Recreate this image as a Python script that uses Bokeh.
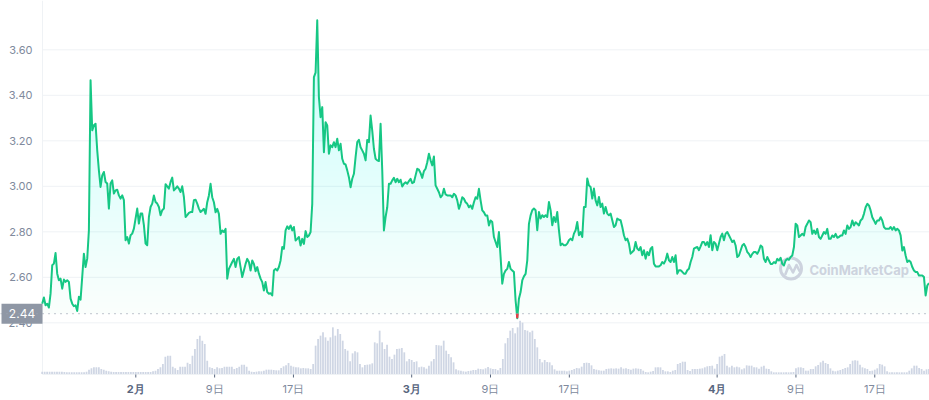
import numpy as np
import pandas as pd
from bokeh.plotting import figure
from bokeh.models import Range1d, Span
from bokeh.core.properties import value
from bokeh.embed import file_html
from bokeh.resources import INLINE

# ---------------- data ----------------
price_start = "2021-01-22 12:04"
price_step_min = 243.6
prices = [
    2.484, 2.511, 2.477, 2.484, 2.467, 2.528, 2.653, 2.66, 2.707, 2.616,
    2.587, 2.594, 2.55, 2.59, 2.58, 2.587, 2.58, 2.506, 2.484, 2.473,
    2.477, 2.452, 2.514, 2.502, 2.602, 2.704, 2.645, 2.682, 2.807, 3.466,
    3.246, 3.268, 3.275, 3.158, 3.07, 2.997, 3.048, 3.063, 3.019, 3.012,
    2.902, 3.012, 3.026, 2.968, 2.982, 2.985, 2.96, 2.946, 2.96, 2.939,
    2.763, 2.777, 2.748, 2.785, 2.792, 2.814, 2.858, 2.902, 2.836, 2.88,
    2.88, 2.829, 2.748, 2.741, 2.865, 2.909, 2.924, 2.96, 2.931, 2.924,
    2.909, 2.873, 2.895, 2.902, 3.009, 3.0, 2.99, 3.019, 3.038, 2.982,
    2.99, 3.0, 2.99, 2.975, 3.0, 2.953, 2.865, 2.873, 2.883, 2.887,
    2.887, 2.939, 2.941, 2.924, 2.902, 2.887,
    2.894, 2.901, 2.879, 2.93, 2.96, 3.011, 2.952, 2.93, 2.886, 2.901,
    2.879, 2.791, 2.806, 2.799, 2.813, 2.594, 2.637, 2.652, 2.667, 2.681,
    2.645, 2.681, 2.689, 2.645, 2.601, 2.63, 2.659, 2.681, 2.667, 2.63,
    2.674, 2.659, 2.627, 2.645, 2.616, 2.594, 2.579, 2.542, 2.579, 2.535,
    2.528, 2.53, 2.52, 2.63, 2.637, 2.63, 2.645, 2.674, 2.733, 2.725,
    2.806, 2.824, 2.813, 2.828, 2.806, 2.821, 2.762, 2.769, 2.777, 2.74,
    2.769, 2.747, 2.803, 2.777, 2.784, 2.799, 2.923, 3.48, 3.50, 3.73,
    3.392, 3.304, 3.348, 3.15, 3.282, 3.267, 3.143, 3.18, 3.172, 3.194,
    3.172, 3.209, 3.158, 3.187, 3.121, 3.099, 3.096, 3.07, 3.04, 2.996,
    3.033, 3.055, 3.128,
    3.194, 3.204, 3.172, 3.158, 3.143, 3.114, 3.204, 3.194, 3.311, 3.245,
    3.165, 3.121, 3.114, 3.111, 3.275, 3.07, 2.806, 2.865, 2.908, 3.011,
    3.011, 3.026, 3.037, 3.018, 3.033, 3.018, 3.029, 2.999, 3.011, 3.018,
    3.011, 3.023, 3.033, 3.014, 3.018, 3.048, 3.077, 3.073, 3.058, 3.037,
    3.067, 3.077, 3.106, 3.143, 3.114, 3.092, 3.131, 3.004, 2.989, 2.974,
    2.952, 2.96, 2.989, 2.964, 2.96, 2.96, 2.96, 2.952, 2.967, 2.96,
    2.938, 2.901, 2.923, 2.952, 2.945, 2.93, 2.923, 2.908, 2.916, 2.901,
    2.93, 2.952, 2.945, 2.989, 2.938, 2.894, 2.886, 2.872, 2.872, 2.828,
    2.85, 2.843, 2.777, 2.755, 2.733, 2.799, 2.689, 2.572, 2.615, 2.63,
    2.637, 2.667, 2.637, 2.63, 2.623, 2.498, 2.42, 2.506, 2.535, 2.586,
    2.604, 2.615, 2.674, 2.835, 2.872,
    2.895, 2.902, 2.895, 2.807, 2.887, 2.858, 2.873, 2.865, 2.873, 2.865,
    2.931, 2.895, 2.829, 2.865, 2.843, 2.887, 2.807, 2.741, 2.748, 2.741,
    2.741, 2.748, 2.763, 2.77, 2.763, 2.792, 2.807, 2.843, 2.785, 2.799,
    2.777, 2.909, 2.909, 3.034, 3.004, 2.997, 2.946, 2.99, 2.938, 2.916,
    2.953, 2.909, 2.924, 2.88, 2.909, 2.88, 2.873, 2.88, 2.851, 2.821,
    2.829, 2.858, 2.853, 2.851, 2.821, 2.785, 2.763, 2.77, 2.748, 2.704,
    2.711, 2.719, 2.755, 2.726, 2.719, 2.733, 2.697, 2.719, 2.682, 2.711,
    2.697, 2.726, 2.733, 2.66, 2.648, 2.648, 2.648, 2.653, 2.667, 2.66,
    2.675, 2.704, 2.675, 2.667, 2.689, 2.667, 2.697, 2.616, 2.631, 2.631,
    2.624, 2.616, 2.616, 2.631, 2.638, 2.667, 2.689, 2.726, 2.73, 2.733,
    2.719, 2.736, 2.755, 2.755, 2.741, 2.755, 2.733, 2.785, 2.719, 2.755,
    2.748, 2.719, 2.748, 2.777, 2.792, 2.763, 2.792, 2.799, 2.785, 2.77,
    2.755, 2.762, 2.74, 2.689, 2.696, 2.718, 2.74, 2.747, 2.733, 2.711,
    2.703, 2.689, 2.703, 2.711, 2.711, 2.703, 2.718, 2.74, 2.733, 2.681,
    2.667, 2.689, 2.674, 2.659, 2.659, 2.667, 2.662, 2.681, 2.674, 2.686,
    2.659, 2.652, 2.674, 2.681, 2.677, 2.689, 2.696, 2.733, 2.835, 2.828,
    2.777, 2.784, 2.791, 2.784, 2.821, 2.835, 2.85, 2.842, 2.791, 2.806,
    2.791, 2.813, 2.777, 2.769, 2.784, 2.799, 2.791, 2.813, 2.769, 2.769,
    2.784, 2.777, 2.791, 2.774, 2.777, 2.784, 2.784, 2.806, 2.791, 2.828,
    2.813, 2.821, 2.85, 2.828, 2.842, 2.835, 2.828, 2.85, 2.857, 2.879,
    2.908, 2.923, 2.916, 2.894, 2.864, 2.85, 2.835, 2.85, 2.85, 2.864,
    2.85, 2.821, 2.813, 2.813, 2.813, 2.821, 2.809, 2.821, 2.806, 2.813,
    2.806, 2.784, 2.718, 2.733, 2.696, 2.667, 2.674, 2.667, 2.645, 2.63,
    2.623, 2.623, 2.608, 2.608, 2.608, 2.601, 2.52, 2.564, 2.574,
]

volume_start = "2021-01-22 12:00"
volume_step_hours = 6
volumes = [
    7, 7, 7, 7, 7, 7, 7, 7, 7, 6,
    5, 5, 5, 5, 5, 5, 5, 5, 7, 13,
    17, 20, 20, 20, 15, 13, 10, 8, 7, 6,
    6, 6, 6, 6, 6, 6, 6, 6, 6, 6,
    6, 6, 6, 6, 6, 8, 10, 15, 20, 30,
    52, 55, 55, 22, 17, 12, 22, 22, 22, 34,
    30, 55, 75, 105, 115, 100, 90, 40, 20, 18,
    15, 20, 17, 18, 22, 22, 22, 22, 15, 18,
    22, 28, 28, 22, 10, 7, 6, 7, 8, 8,
    10, 13, 13, 13, 12, 11, 11, 18, 23, 26,
    33, 25, 22, 20, 20, 17, 18, 17, 17, 15,
    30, 85, 105, 115, 125, 110, 100, 110, 140, 115,
    135,
    120, 100, 75, 70, 38, 62, 68, 65, 30, 20,
    27, 28, 29, 32, 95, 92, 130, 95, 75, 88,
    52, 45, 58, 75, 76, 78, 65, 38, 45, 42,
    36, 38, 20, 22, 20, 16, 25, 38, 45, 87,
    86, 85, 100, 70, 60, 50, 35, 14, 11, 10,
    8, 7, 9, 10, 12, 12, 16, 15, 14, 17,
    21, 17, 15, 15, 11, 18, 45, 92, 108, 130,
    138, 122, 140, 160, 154, 132, 130, 125, 130, 105,
    80, 45, 35, 42, 36, 35, 26, 14, 10, 10,
    10, 10, 8, 10, 12, 15, 18, 17, 22, 33,
    34, 33, 26, 15, 13, 11, 10, 10, 15, 16,
    17, 16, 17, 16, 20, 16, 17, 15, 13, 16,
    17, 16, 15, 10, 6, 5, 7, 9, 20, 20,
    20, 12, 8, 8, 6, 10, 12, 30, 33, 37,
    37, 12, 9, 15, 15, 15, 16, 17, 20, 23,
    24, 25, 16, 30, 52, 55, 60, 25, 20, 25,
    20, 22, 20, 14, 17, 26, 25, 25, 20, 20,
    16, 22, 25, 16, 15, 8, 5, 5, 5, 5,
    5, 5, 5, 5, 6, 17, 20, 20, 18, 10,
    10, 15, 15, 23, 27, 35, 40, 33, 30, 17,
    10, 8, 10, 12, 15, 18, 20, 30, 40, 41,
    40, 28, 20, 17, 15, 9, 10, 13, 17, 30,
    28, 23, 8, 5, 5, 5, 5, 5, 5, 5,
    5, 10, 17, 25, 25, 18, 15, 10, 14, 15,
]

open_price = 2.44
open_label = "2.44"
price_ticks = [2.40, 2.60, 2.80, 3.00, 3.20, 3.40, 3.60]
month_ticks = ["2021-02-01", "2021-03-01", "2021-04-01"]
month_labels = ["2月", "3月", "4月"]
day_ticks = ["2021-02-09", "2021-02-17", "2021-03-09", "2021-03-17",
             "2021-04-09", "2021-04-17"]
day_labels = ["9日", "17日", "9日", "17日", "9日", "17日"]
watermark = "CoinMarketCap"

# ---------------- layout (page pixels -> data) ----------------
DAY = 86400000.0
W, H = 929, 400
PAGE_LEFT, PAGE_TOP = 0, 0
FEB1_PX = 135.3          # page x of 1 Feb
PX_PER_DAY = 9.853
P360_PX = 49.3           # page y of the 3.60 grid line
PX_PER_UNIT = 227.5
AXIS_PX = 42             # page x of the y-axis line
BASE_PX = 373.5          # page y of the volume baseline
VOL_PX_UNIT = 1 / 3.0    # pixels per volume unit


def ms(s):
    return pd.Timestamp(s).value / 1e6


FEB1 = ms("2021-02-01")


def xd(px):
    return FEB1 + (px - FEB1_PX) / PX_PER_DAY * DAY


def yd(py):
    return 3.60 - (py - P360_PX) / PX_PER_UNIT


x0, x1 = xd(PAGE_LEFT), xd(PAGE_LEFT + W)
y0, y1 = yd(PAGE_TOP + H), yd(PAGE_TOP)
v0 = -(PAGE_TOP + H - BASE_PX) / VOL_PX_UNIT
v1 = (BASE_PX - PAGE_TOP) / VOL_PX_UNIT

t_price = ms(price_start) + np.arange(len(prices)) * price_step_min * 60000.0
t_vol = ms(volume_start) + np.arange(len(volumes)) * volume_step_hours * 3600000.0
pa = np.array(prices, dtype=float)

GREEN = "#16c784"
RED = "#ea3943"
GRID = "#eff2f5"
AXIS_TXT = "#808a9d"
MONTH_TXT = "#58667e"
FONT = value("Inter")

p = figure(width=W, height=H, x_range=Range1d(x0, x1), y_range=Range1d(y0, y1),
           toolbar_location=None, output_backend="svg",
           x_axis_location=None, y_axis_location=None,
           min_border=0, min_border_left=0, min_border_right=0,
           min_border_top=0, min_border_bottom=0, outline_line_color=None,
           background_fill_color="white", border_fill_color="white")
p.grid.visible = False
p.extra_y_ranges = {"vol": Range1d(v0, v1)}

# grid lines and axis lines
p.segment(x0=[xd(AXIS_PX)] * len(price_ticks), x1=[x1] * len(price_ticks),
          y0=price_ticks, y1=price_ticks, line_color=GRID, line_width=1)
p.segment(x0=[xd(AXIS_PX)], x1=[xd(AXIS_PX)], y0=[y1], y1=[yd(BASE_PX + 0.5)],
          line_color=GRID, line_width=1)
p.segment(x0=[xd(AXIS_PX)], x1=[x1], y0=[yd(BASE_PX + 0.5)],
          y1=[yd(BASE_PX + 0.5)], line_color=GRID, line_width=1)

# gradient area between the line and the opening price
p.varea(x=t_price, y1=open_price, y2=np.maximum(pa, open_price),
        fill_color=GREEN, fill_alpha=0.025)
for lv in np.arange(open_price + 0.025, 3.76, 0.025):
    p.varea(x=t_price, y1=lv, y2=np.maximum(pa, lv),
            fill_color=GREEN, fill_alpha=0.0042)

# volume bars
p.vbar(x=t_vol, top=volumes, bottom=0,
       width=volume_step_hours * 3600000.0 * 0.72,
       y_range_name="vol", fill_color="#cfd6e4", line_color=None)

# opening price dotted line
p.add_layout(Span(location=open_price, dimension="width", line_color="#9aa2b1",
                  line_width=1.3, line_dash="1 5"))

# watermark (behind the line)
wm_color = "#cdd3de"
logo_x, logo_y = xd(790.5), yd(268)
p.scatter([logo_x], [logo_y], marker="circle", size=21, fill_color=None,
          line_color=wm_color, line_width=3)
wave_dx = [-5.5, -2.0, 2.0, 5.5, 8.5]
wave_dy = [5.5, -3.5, 4.0, -3.5, 2.5]
p.line([logo_x + dx / PX_PER_DAY * DAY for dx in wave_dx],
       [logo_y - dy / PX_PER_UNIT for dy in wave_dy],
       line_color=wm_color, line_width=2.6, line_join="round", line_cap="round")
p.text(x=[xd(809)], y=[yd(269)], text=[watermark], text_align="left",
       text_baseline="middle", text_font=FONT, text_font_size="13px",
       text_font_style="bold", text_color=wm_color)

# price line
p.line(t_price, pa, line_color=GREEN, line_width=2, line_join="round")

# red parts below the opening price
n = len(pa)
below = pa < open_price
seg_x, seg_y = [], []
i = 0
while i < n:
    if below[i]:
        j = i
        while j + 1 < n and below[j + 1]:
            j += 1
        xs, ys = [], []
        if i > 0:
            f = (pa[i - 1] - open_price) / (pa[i - 1] - pa[i])
            xs.append(t_price[i - 1] + f * (t_price[i] - t_price[i - 1]))
            ys.append(open_price)
        xs += list(t_price[i:j + 1])
        ys += list(pa[i:j + 1])
        if j + 1 < n:
            f = (open_price - pa[j]) / (pa[j + 1] - pa[j])
            xs.append(t_price[j] + f * (t_price[j + 1] - t_price[j]))
            ys.append(open_price)
        seg_x.append(xs)
        seg_y.append(ys)
        i = j + 1
    else:
        i += 1
if seg_x:
    p.multi_line(seg_x, seg_y, line_color=RED, line_width=2)

# y tick labels
p.text(x=[xd(32)] * len(price_ticks), y=price_ticks,
       text=[f"{v:.2f}" for v in price_ticks], text_align="right",
       text_baseline="middle", text_font=FONT, text_font_size="11px",
       text_color=AXIS_TXT)

# opening price tag
p.rect(x=[xd(21.5)], y=[open_price], width=41, height=20,
       width_units="screen", height_units="screen",
       fill_color="#8f97a5", line_color=None)
p.text(x=[xd(21.5)], y=[open_price], text=[open_label],
       text_align="center", text_baseline="middle", text_font=FONT,
       text_font_size="12px", text_color="white")

# x ticks and labels
all_ticks = [ms(d) for d in month_ticks + day_ticks]
p.segment(x0=all_ticks, x1=all_ticks, y0=[yd(BASE_PX + 0.5)] * len(all_ticks),
          y1=[yd(BASE_PX + 3.5)] * len(all_ticks), line_color=MONTH_TXT,
          line_width=1)
p.text(x=[ms(d) for d in day_ticks], y=[yd(388)] * len(day_ticks),
       text=day_labels, text_align="center", text_baseline="middle",
       text_font=FONT, text_font_size="11px", text_color=AXIS_TXT)
p.text(x=[ms(d) for d in month_ticks], y=[yd(388)] * len(month_ticks),
       text=month_labels, text_align="center", text_baseline="middle",
       text_font=FONT, text_font_size="11px", text_font_style="bold",
       text_color=MONTH_TXT)

open("out.html", "w").write(file_html(p, INLINE))
